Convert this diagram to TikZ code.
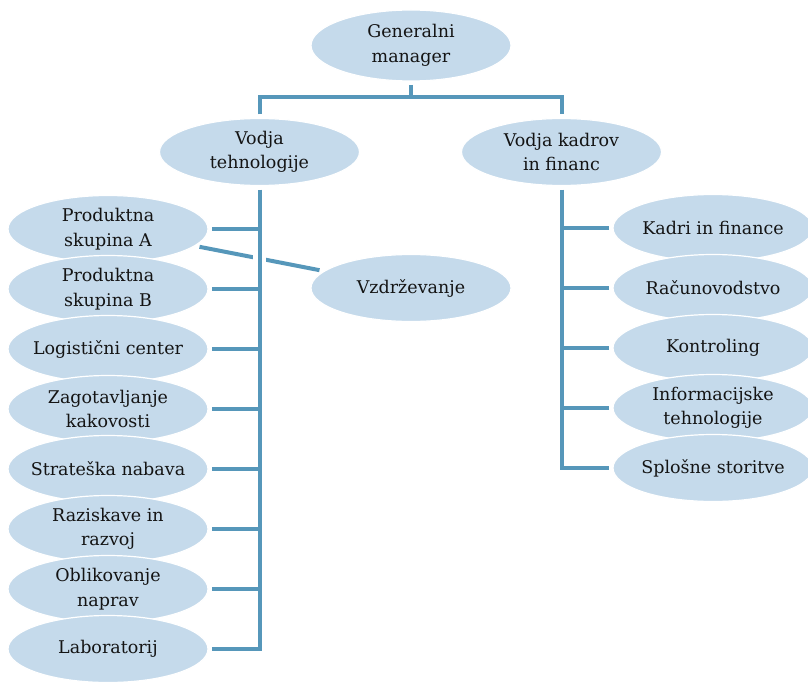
\documentclass[tikz,border=0pt]{standalone}
\usepackage{fontspec}
\setmainfont{DejaVu Serif}
\usetikzlibrary{shapes.geometric,intersections}
\definecolor{boxfill}{RGB}{197,218,235}
\definecolor{linecol}{RGB}{86,151,186}
\definecolor{textcol}{RGB}{20,20,20}
\tikzset{
  unit/.style={ellipse, fill=boxfill, draw=white, line width=1.2pt,
    minimum width=200pt, minimum height=67pt, inner xsep=-20pt, inner ysep=0pt,
    outer sep=4pt, align=center, text=textcol,
    font=\fontsize{17.5}{24.5}\selectfont},
  link/.style={draw=linecol, line width=4pt}
}
\begin{document}
\begin{tikzpicture}[x=1pt,y=-1pt]
\useasboundingbox (0,0) rectangle (808,682);
\clip (0,0) rectangle (808,682);

% top level
\node[unit, minimum height=71pt] (gm) at (411,45.5) {Generalni\\manager};
\node[unit] (vt) at (259.5,152) {Vodja\\tehnologije};
\node[unit] (vk) at (561.5,152) {Vodja kadrov\\in financ};
\coordinate (bus) at (411,97);

% technology branch
\node[unit] (pa)  at (108,229) {Produktna\\skupina A};
\node[unit] (pb)  at (108,289) {Produktna\\skupina B};
\node[unit] (lc)  at (108,349) {Logistični center};
\node[unit] (zk)  at (108,409) {Zagotavljanje\\kakovosti};
\node[unit] (sn)  at (108,469) {Strateška nabava};
\node[unit] (rr)  at (108,529) {Raziskave in\\razvoj};
\node[unit] (on)  at (108,589) {Oblikovanje\\naprav};
\node[unit] (lab) at (108,649) {Laboratorij};
\node[unit] (vz)  at (411,288) {Vzdrževanje};

% finance branch
\node[unit] (kf) at (713,228) {Kadri in finance};
\node[unit] (ra) at (713,288) {Računovodstvo};
\node[unit] (ko) at (713,348) {Kontroling};
\node[unit] (it) at (713,408) {Informacijske\\tehnologije};
\node[unit] (ss) at (713,468) {Splošne storitve};

% connectors from the general manager
\draw[link] (gm.south) -- (bus);
\draw[link] (vt.north) |- (bus) -| (vk.north);

% maintenance link, broken where it crosses the trunk
\draw[link, name path=diag] (pa) -- (vz);
\path[name path=trunk] (vt.south) -- (vt.south |- lab.east);
\path[name intersections={of=diag and trunk, by=cross}];
\draw[white, line width=13pt] ([yshift=6pt]cross) -- ([yshift=-6pt]cross);

% technology trunk and ties
\draw[link] (vt.south) |- (lab.east);
\foreach \n in {pa,pb,lc,zk,sn,rr,on}
  \draw[link] (\n.east) -- (\n.east -| vt.south);

% finance trunk and ties
\draw[link] (vk.south) |- (ss.west);
\foreach \n in {kf,ra,ko,it}
  \draw[link] (\n.west) -- (\n.west -| vk.south);
\end{tikzpicture}
\end{document}
